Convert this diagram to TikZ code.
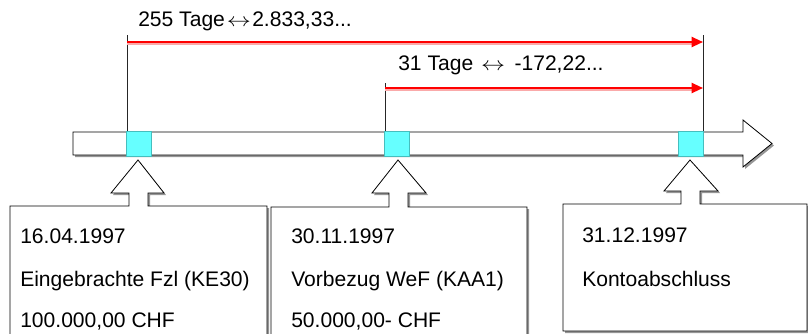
\documentclass[tikz,border=0pt]{standalone}
\usepackage{fontspec}
\usepackage{graphicx}
\setmainfont{Liberation Sans}
\usetikzlibrary{arrows.meta,calc}
\definecolor{cyanbox}{RGB}{102,255,255}
\definecolor{cyanedge}{RGB}{70,190,190}
\definecolor{shadowgray}{RGB}{150,150,150}
\definecolor{pinkhalo}{RGB}{250,170,170}
\newcommand{\lrarrow}{\scalebox{1.25}[1]{$\leftrightarrow$}}
\begin{document}
\begin{tikzpicture}[x=0.75pt,y=-0.75pt,
  lbl/.style={font=\fontsize{15.8}{19}\selectfont, inner sep=0pt, anchor=base west},
  outl/.style={draw=black, line width=0.6pt, fill=white},
  shad/.style={fill=shadowgray, draw=none},
  redarr/.style={draw=red, line width=1.5pt, -{Triangle[length=8.5pt,width=7.5pt]}},
  halo/.style={draw=pinkhalo, line width=2.6pt},
  vline/.style={draw=black!85, line width=0.6pt},
  cyansq/.style={fill=cyanbox, draw=cyanedge, line width=0.4pt}]
\useasboundingbox (0,0) rectangle (808,333);

% timeline arrow
\def\timeline{(73,132) -- (743,132) -- (743,120) -- (772,143.5) -- (743,167) -- (743,155) -- (73,155) -- cycle}
\fill[shad, shift={(2,2)}] \timeline;
\path[outl] \timeline;

% vertical marker lines
\coordinate (v1t) at (127,35);  \coordinate (v1b) at (127,132);
\coordinate (v2t) at (385,83);  \coordinate (v2b) at (385,132);
\coordinate (v3t) at (703,35);  \coordinate (v3b) at (703,132);
\draw[vline] (v1t) -- (v1b);
\draw[vline] (v2t) -- (v2b);
\draw[vline] (v3t) -- (v3b);

% red arrows
\coordinate (r1s) at (127,42); \coordinate (r1e) at (703,42);
\coordinate (r2s) at (385,88); \coordinate (r2e) at (703,88);
\draw[halo] ($(r1s)+(0,0.8)$) -- ($(r1e)+(-10,0.8)$);
\draw[halo] ($(r2s)+(0,0.8)$) -- ($(r2e)+(-10,0.8)$);
\draw[redarr] (r1s) -- (r1e);
\draw[redarr] (r2s) -- (r2e);

% cyan markers
\node[cyansq, minimum width=19pt, minimum height=19pt, inner sep=0pt] (m1) at (138.5,144) {};
\node[cyansq, minimum width=19pt, minimum height=19pt, inner sep=0pt] (m2) at (397,144) {};
\node[cyansq, minimum width=19pt, minimum height=19pt, inner sep=0pt] (m3) at (690.5,144) {};

% labels
\node[lbl] (t1) at (138,26) {255 Tage\hspace{1.5pt}\lrarrow\hspace{1pt}2.833,33...};
\node[lbl] (t2) at (398,70) {31 Tage\hspace{6pt}\lrarrow\hspace{7pt}-172,22...};

% callout boxes
\def\boxA{(10,345) -- (10,206) -- (129,206) -- (129,193) -- (111,193) -- (138,160) -- (164,193) -- (148,193) -- (148,206) -- (267,206) -- (267,345) -- cycle}
\def\boxB{(271,345) -- (271,207) -- (389,207) -- (389,193) -- (372,193) -- (398,160) -- (426,193) -- (408,193) -- (408,207) -- (527,207) -- (527,345) -- cycle}
\def\boxC{(563,331) -- (563,204) -- (681,204) -- (681,191) -- (664,191) -- (690,160) -- (718,191) -- (700,191) -- (700,204) -- (807,204) -- (807,331) -- cycle}
\fill[shad, shift={(2,2)}] \boxA;
\fill[shad, shift={(2,2)}] \boxB;
\fill[shad, shift={(2,2)}] \boxC;
\path[outl] \boxA;
\path[outl] \boxB;
\path[outl] \boxC;

\node[lbl] (a1) at (20,243) {16.04.1997};
\node[lbl] (a2) at (20,286) {Eingebrachte Fzl (KE30)};
\node[lbl] (a3) at (20,327) {100.000,00 CHF};

\node[lbl] (b1) at (291,243) {30.11.1997};
\node[lbl] (b2) at (291,286) {Vorbezug WeF (KAA1)};
\node[lbl] (b3) at (291,327) {50.000,00- CHF};

\node[lbl] (c1) at (582,242) {31.12.1997};
\node[lbl] (c2) at (582,286) {Kontoabschluss};
\end{tikzpicture}
\end{document}
